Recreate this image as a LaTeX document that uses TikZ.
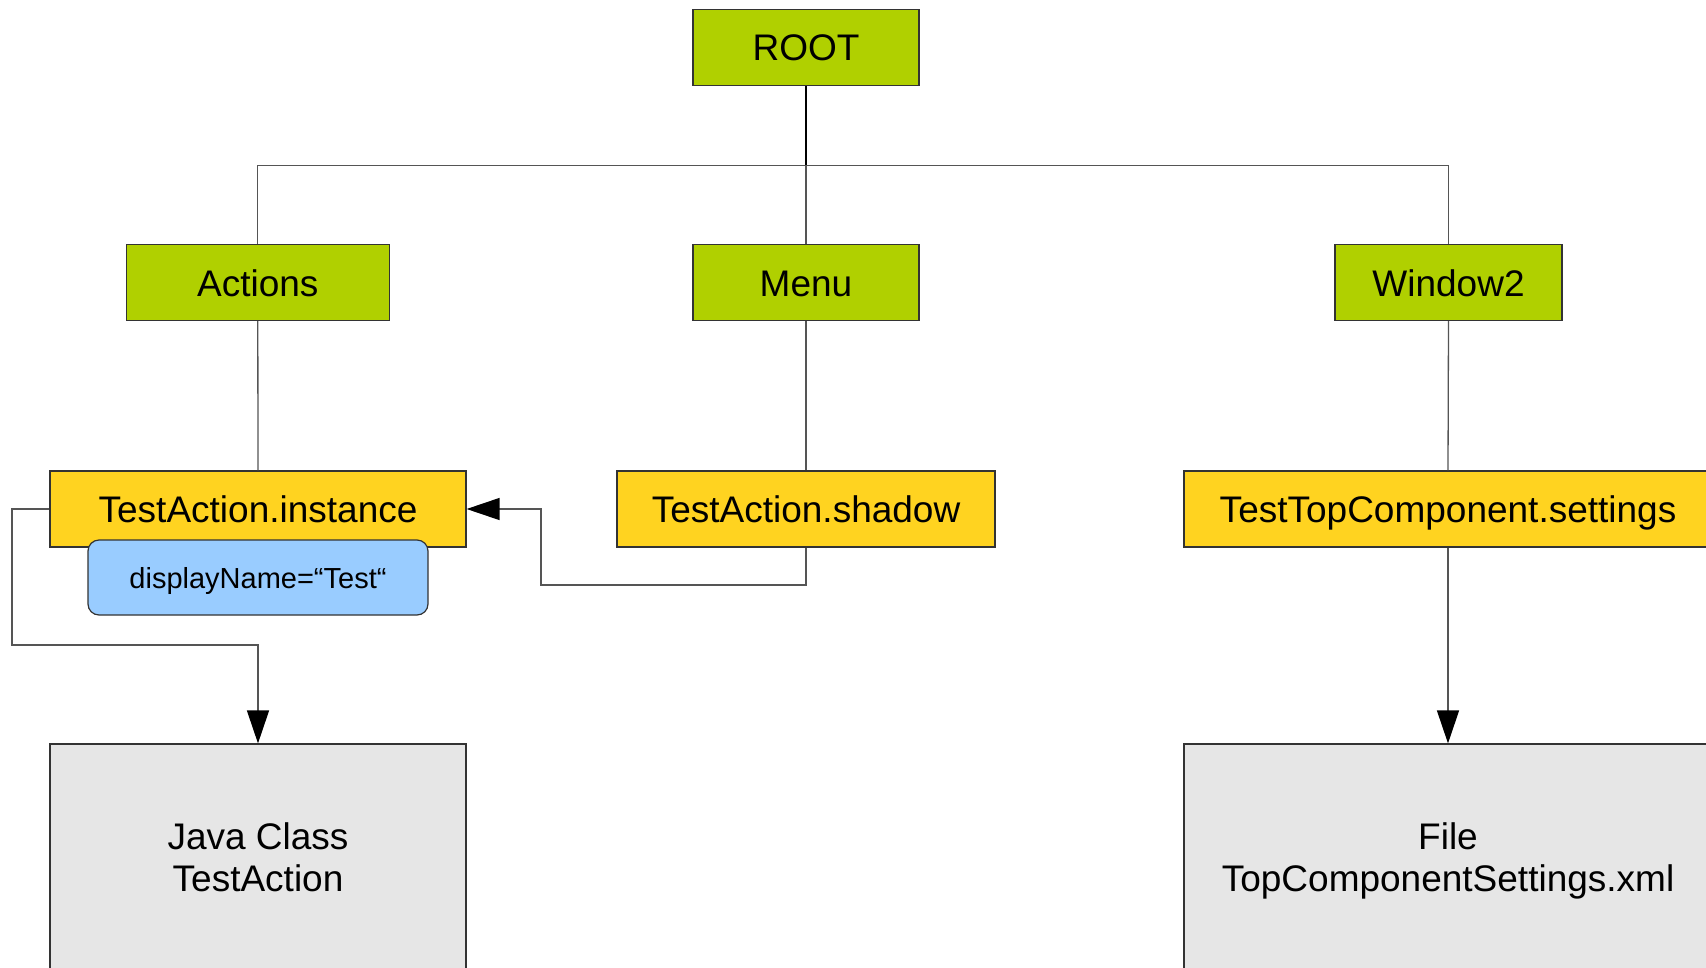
\documentclass[tikz,border=0pt]{standalone}
\usepackage{fontspec}
\setmainfont{Liberation Sans}
\usetikzlibrary{arrows.meta}
\definecolor{greenbox}{HTML}{B0D000}
\definecolor{yellowbox}{HTML}{FFD320}
\definecolor{bluebox}{HTML}{99CCFF}
\definecolor{graybox}{HTML}{E6E6E6}
\definecolor{edgecol}{HTML}{333333}
\definecolor{linecol}{HTML}{555555}
\tikzset{
  base/.style={draw=edgecol, line width=1.2pt, inner sep=0pt, anchor=center,
    font=\fontsize{37}{42}\selectfont, align=center, text depth=0pt},
  greennode/.style={base, fill=greenbox, minimum height=76pt, text height=27pt},
  yellownode/.style={base, fill=yellowbox, minimum height=76pt, text height=27pt},
  bluenode/.style={base, fill=bluebox, rounded corners=11pt, minimum height=75pt,
    font=\fontsize{29}{33}\selectfont, text height=21pt},
  graynode/.style={base, fill=graybox, minimum height=226pt},
  conn/.style={draw=linecol, line width=1.3pt},
  arr/.style={conn, -{Triangle[length=33pt,width=22pt,color=black,fill=black]}},
}
\begin{document}
\begin{tikzpicture}[x=1pt,y=-1pt]
\clip (0,0) rectangle (1706,967);
\fill[white] (0,0) rectangle (1706,967);

\node[greennode, minimum width=226pt] (root) at (806,47.3) {ROOT};
\node[greennode, minimum width=263pt] (actions) at (257.8,282.5) {Actions};
\node[greennode, minimum width=226pt] (menu) at (806,282.5) {Menu};
\node[greennode, minimum width=227pt] (window) at (1448.5,282.5) {Window2};

\node[yellownode, minimum width=416pt] (inst) at (258,509) {TestAction.instance};
\node[yellownode, minimum width=378pt] (shadow) at (806,509) {TestAction.shadow};
\node[yellownode, minimum width=528pt] (settings) at (1448,509) {TestTopComponent.settings};

\node[bluenode, minimum width=340pt] (disp) at (258,577.5) {displayName=“Test“};

\node[graynode, minimum width=416pt] (java) at (258,857) {Java Class\\TestAction};
\node[graynode, minimum width=528pt] (file) at (1448,857) {File\\TopComponentSettings.xml};

\coordinate (bus) at (806,165.4);

% tree lines
\draw[line width=1.8pt, black] (root.south) -- (bus);
\draw[conn] (actions.north) |- (bus) -| (window.north);
\draw[conn] (bus) -- (menu.north);
\draw[conn] (actions.south) -- (inst.north);
\draw[conn] (menu.south) -- (shadow.north);
\draw[conn] (window.south) -- (settings.north);

% arrows
\draw[arr] (settings.south) -- (file.north);
\draw[arr] (inst.west) -- (12,509) -- (12,645) -| (java.north);
\draw[arr] (shadow.south) -- (806,585) -- (541,585) -- (541,509) -- (inst.east);
\end{tikzpicture}
\end{document}
